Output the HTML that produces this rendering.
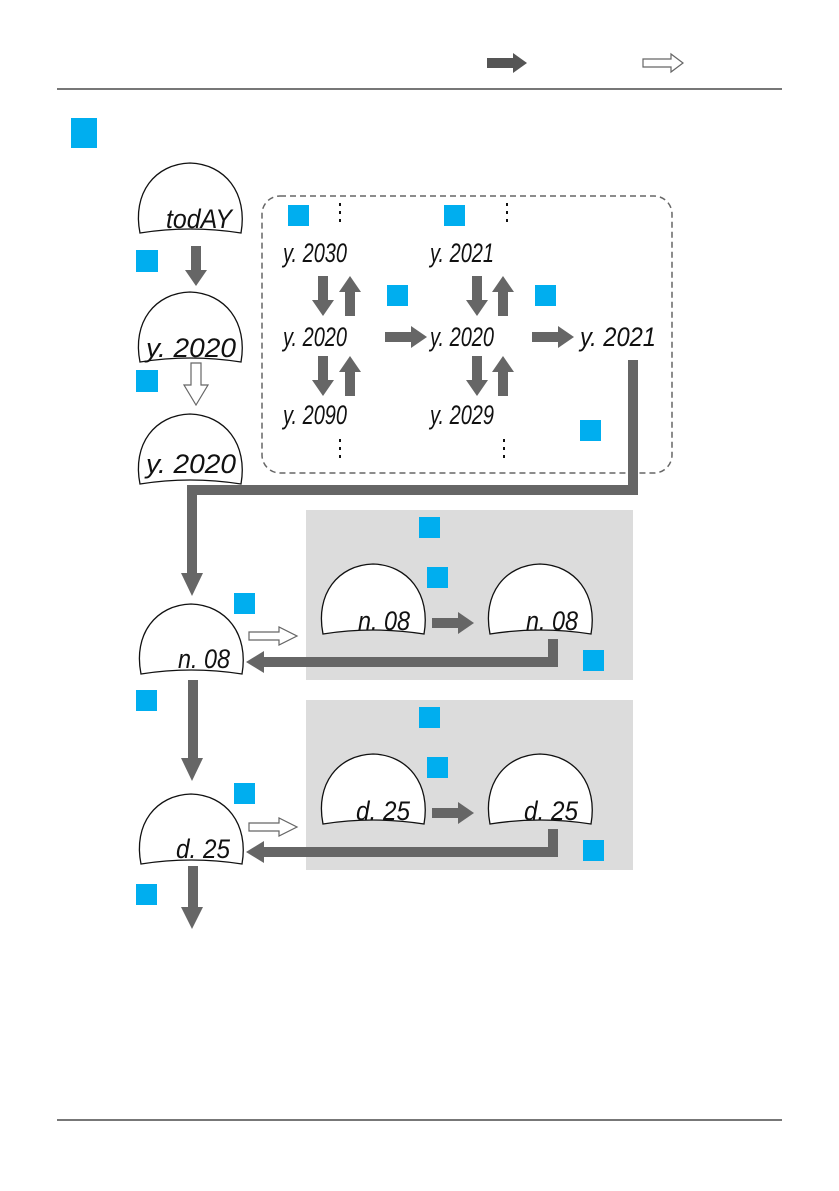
<!DOCTYPE html>
<html><head><meta charset="utf-8"><style>
html,body{margin:0;padding:0;background:#fff;}
svg{display:block;}
.t{font-family:"Liberation Sans",sans-serif;font-style:italic;font-size:27px;fill:#111;}
</style></head><body>
<svg width="839" height="1191" viewBox="0 0 839 1191" xmlns="http://www.w3.org/2000/svg">
<defs>
<path id="dome" d="M-50,70 C-58,30 -35,1 0,0 C35,1 58,30 51,70 Q0,62 -50,70 Z" fill="#fff" stroke="#111" stroke-width="1.3"/>
<g id="dn"><rect x="-5" y="0" width="10" height="26" fill="#666"/><polygon points="-11,24 11,24 0,40" fill="#666"/></g>
<g id="rt"><rect x="0" y="-5" width="28" height="10" fill="#666"/><polygon points="26,-11 26,11 42,0" fill="#666"/></g>
<g id="hr"><polygon points="0,-4 30,-4 30,-9 48,0 30,9 30,4 0,4" fill="#fff" stroke="#666" stroke-width="1.2"/></g>
</defs>
<g transform="translate(487,63)"><rect x="0" y="-5" width="28" height="10" fill="#555"/><polygon points="26,-10 26,10 40,0" fill="#555"/></g>
<g transform="translate(643,63)"><polygon points="0,-4 28,-4 28,-9 40,0 28,9 28,4 0,4" fill="#fff" stroke="#666" stroke-width="1.2"/></g>
<rect x="57" y="88" width="725" height="2" fill="#777"/>
<rect x="71" y="118" width="26" height="30" fill="#00aeef"/>
<rect x="57" y="1119" width="725" height="2" fill="#777"/>

<use href="#dome" x="190" y="163"/>
<text class="t" x="166" y="228" textLength="66" lengthAdjust="spacingAndGlyphs">todAY</text>
<use href="#dome" x="190" y="292"/>
<text class="t" x="146" y="357" textLength="90" lengthAdjust="spacingAndGlyphs">y. 2020</text>
<use href="#dome" x="190" y="414"/>
<text class="t" x="146" y="473" textLength="90" lengthAdjust="spacingAndGlyphs">y. 2020</text>
<use href="#dn" x="196" y="246"/>
<rect x="136" y="250" width="22" height="22" fill="#00aeef"/>
<polygon points="191,363 201,363 201,385 208,385 196,405 184,385 191,385" fill="#fff" stroke="#666" stroke-width="1.2"/>
<rect x="136" y="370" width="22" height="22" fill="#00aeef"/>

<rect x="262" y="196" width="410" height="277" rx="18" fill="none" stroke="#666" stroke-width="1.5" stroke-dasharray="6,4"/>
<text class="t" x="283" y="262" textLength="64" lengthAdjust="spacingAndGlyphs">y. 2030</text>
<text class="t" x="283" y="346" textLength="64" lengthAdjust="spacingAndGlyphs">y. 2020</text>
<text class="t" x="283" y="424" textLength="64" lengthAdjust="spacingAndGlyphs">y. 2090</text>
<text class="t" x="430" y="262" textLength="64" lengthAdjust="spacingAndGlyphs">y. 2021</text>
<text class="t" x="430" y="346" textLength="64" lengthAdjust="spacingAndGlyphs">y. 2020</text>
<text class="t" x="430" y="424" textLength="64" lengthAdjust="spacingAndGlyphs">y. 2029</text>
<text class="t" x="580" y="346" textLength="76" lengthAdjust="spacingAndGlyphs">y. 2021</text>
<g fill="#111"><rect x="339" y="203" width="2" height="3"/><rect x="339" y="211" width="2" height="3"/><rect x="339" y="219" width="2" height="3"/>
<rect x="339" y="439" width="2" height="3"/><rect x="339" y="447" width="2" height="3"/><rect x="339" y="455" width="2" height="3"/>
<rect x="506" y="203" width="2" height="3"/><rect x="506" y="211" width="2" height="3"/><rect x="506" y="219" width="2" height="3"/>
<rect x="503" y="439" width="2" height="3"/><rect x="503" y="447" width="2" height="3"/><rect x="503" y="455" width="2" height="3"/></g>
<use href="#dn" x="323" y="276"/><use href="#dn" x="350" y="276" transform="rotate(180 350 296)"/>
<use href="#dn" x="323" y="356"/><use href="#dn" x="350" y="356" transform="rotate(180 350 376)"/>
<use href="#dn" x="477" y="276"/><use href="#dn" x="503" y="276" transform="rotate(180 503 296)"/>
<use href="#dn" x="477" y="356"/><use href="#dn" x="503" y="356" transform="rotate(180 503 376)"/>
<use href="#rt" x="385" y="337"/><use href="#rt" x="532" y="337"/>
<rect x="288" y="205" width="21" height="21" fill="#00aeef"/>
<rect x="444" y="205" width="21" height="21" fill="#00aeef"/>
<rect x="387" y="285" width="21" height="21" fill="#00aeef"/>
<rect x="535" y="285" width="21" height="21" fill="#00aeef"/>
<rect x="580" y="420" width="21" height="21" fill="#00aeef"/>

<path d="M633,360 V490 H192 V575" fill="none" stroke="#666" stroke-width="10"/>
<polygon points="181,573 203,573 192,596" fill="#666"/>

<rect x="306" y="510" width="327" height="170" fill="#dcdcdc"/>
<rect x="419" y="517" width="21" height="21" fill="#00aeef"/>
<rect x="427" y="567" width="21" height="21" fill="#00aeef"/>
<rect x="583" y="650" width="21" height="21" fill="#00aeef"/>
<use href="#dome" x="373" y="564"/>
<text class="t" x="358" y="630" textLength="52" lengthAdjust="spacingAndGlyphs">n. 08</text>
<use href="#dome" x="540" y="564"/>
<text class="t" x="526" y="630" textLength="52" lengthAdjust="spacingAndGlyphs">n. 08</text>
<use href="#rt" x="432" y="623"/>
<path d="M553,639 V662 H262" fill="none" stroke="#666" stroke-width="10"/>
<polygon points="264,651 264,673 246,662" fill="#666"/>
<use href="#dome" x="191" y="604"/>
<text class="t" x="178" y="668" textLength="52" lengthAdjust="spacingAndGlyphs">n. 08</text>
<rect x="234" y="593" width="21" height="21" fill="#00aeef"/>
<use href="#hr" x="249" y="636"/>
<rect x="136" y="690" width="21" height="21" fill="#00aeef"/>
<rect x="188" y="680" width="10" height="80" fill="#666"/>
<polygon points="181,758 203,758 192,781" fill="#666"/>

<rect x="306" y="700" width="327" height="170" fill="#dcdcdc"/>
<rect x="419" y="707" width="21" height="21" fill="#00aeef"/>
<rect x="427" y="757" width="21" height="21" fill="#00aeef"/>
<rect x="583" y="840" width="21" height="21" fill="#00aeef"/>
<use href="#dome" x="373" y="754"/>
<text class="t" x="356" y="820" textLength="54" lengthAdjust="spacingAndGlyphs">d. 25</text>
<use href="#dome" x="540" y="754"/>
<text class="t" x="524" y="820" textLength="54" lengthAdjust="spacingAndGlyphs">d. 25</text>
<use href="#rt" x="432" y="813"/>
<path d="M553,829 V852 H262" fill="none" stroke="#666" stroke-width="10"/>
<polygon points="264,841 264,863 246,852" fill="#666"/>
<use href="#dome" x="191" y="794"/>
<text class="t" x="176" y="858" textLength="54" lengthAdjust="spacingAndGlyphs">d. 25</text>
<rect x="234" y="783" width="21" height="21" fill="#00aeef"/>
<use href="#hr" x="249" y="827"/>
<rect x="136" y="884" width="21" height="21" fill="#00aeef"/>
<rect x="188" y="866" width="10" height="44" fill="#666"/>
<polygon points="181,907 203,907 192,929" fill="#666"/>
</svg>
</body></html>
